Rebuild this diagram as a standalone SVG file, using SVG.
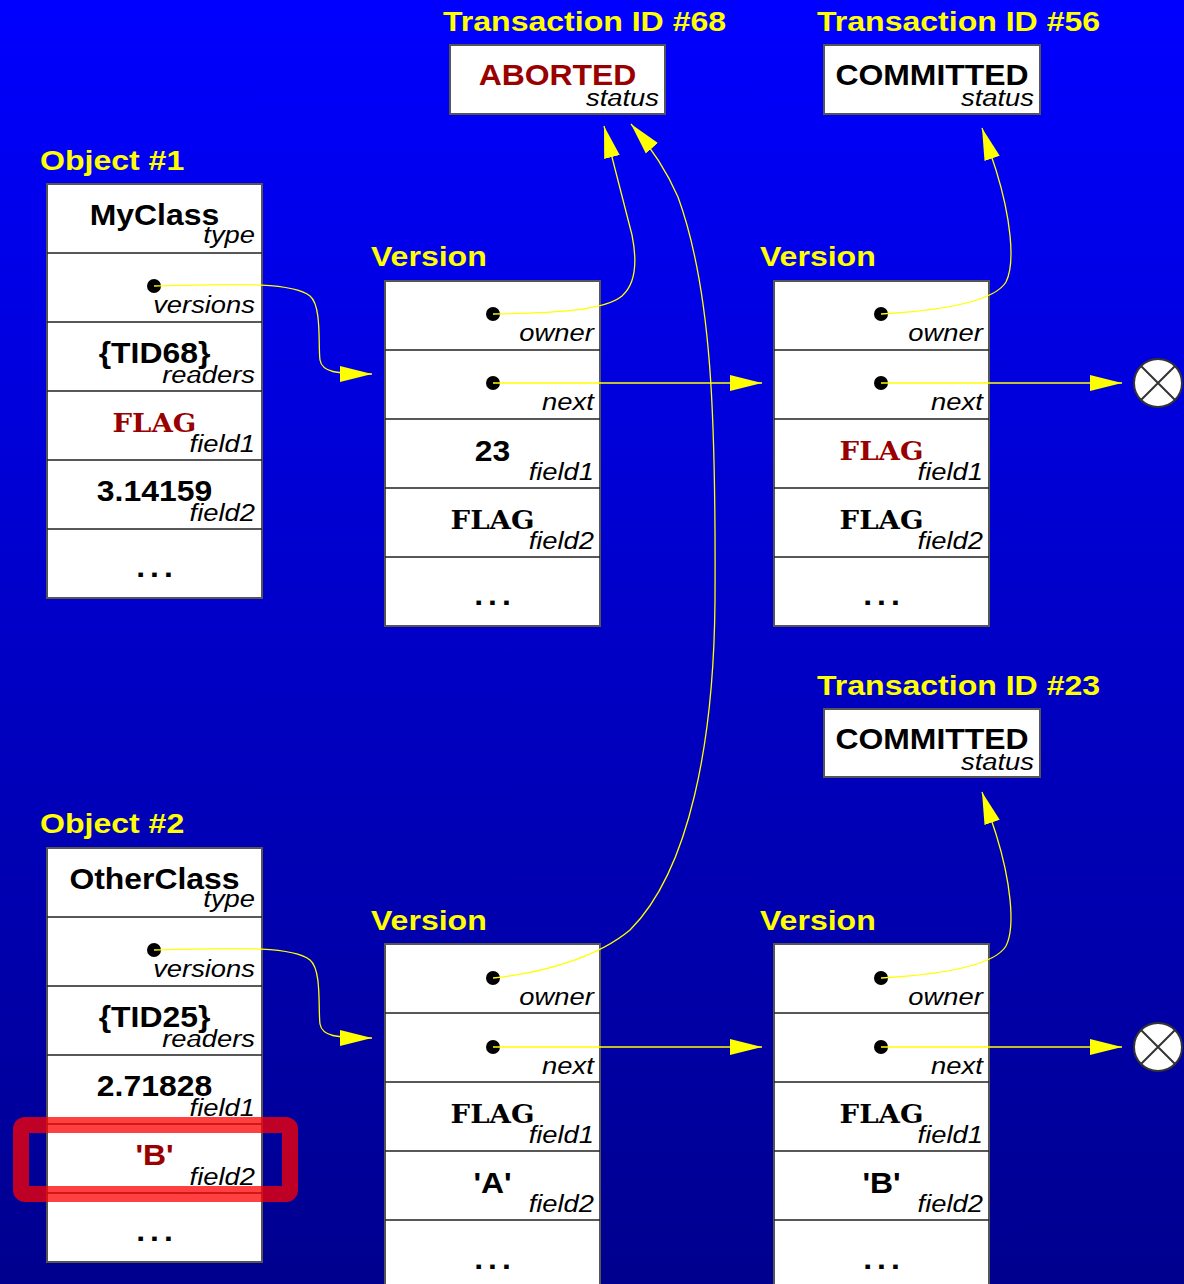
<svg xmlns="http://www.w3.org/2000/svg" width="1184" height="1284" viewBox="0 0 1184 1284">
  <defs>
    <linearGradient id="bg" x1="0" y1="0" x2="0" y2="1">
      <stop offset="0" stop-color="#0000ff"/>
      <stop offset="1" stop-color="#00008e"/>
    </linearGradient>
    <marker id="arrow" markerUnits="userSpaceOnUse" markerWidth="34" markerHeight="18" viewBox="0 0 34 18" refX="32" refY="9" orient="auto">
      <path d="M0,1 L32,9 L0,17 z" fill="#ffff00"/>
    </marker>
    <g id="nullref">
      <circle r="24" fill="#fff" stroke="#333" stroke-width="2"/>
      <path d="M-17,-17 L17,17 M17,-17 L-17,17" stroke="#333" stroke-width="2"/>
    </g>
  </defs>
  <style>
    .box { fill: #fff; stroke: #555; stroke-width: 2; }
    .row { stroke: #222; stroke-width: 1.5; }
    .dot { fill: #000; }
    .ttl { font-family: "Liberation Sans", Arial, sans-serif; font-weight: bold; font-size: 28px; fill: #ffff00;
           transform-box: fill-box; transform-origin: 0 0; transform: scaleX(1.145); }
    .val { font-family: "Liberation Sans", Arial, sans-serif; font-weight: bold; font-size: 29px; fill: #000; text-anchor: middle;
           transform-box: fill-box; transform-origin: 50% 0; transform: scaleX(1.1); }
    .mono { font-family: "DejaVu Serif", serif; font-weight: bold; font-size: 26px; fill: #000; text-anchor: middle;
            transform-box: fill-box; transform-origin: 50% 0; transform: scaleX(1.06); }
    .red { fill: #990000; }
    .lbl { font-family: "Liberation Sans", Arial, sans-serif; font-style: italic; font-size: 24px; fill: #000; text-anchor: end;
           transform-box: fill-box; transform-origin: 100% 0; transform: scaleX(1.14); }
    .more { letter-spacing: 4.5px; }
    .link { fill: none; stroke: #ffff00; stroke-width: 1.3; marker-end: url(#arrow); }
    .mark { fill: none; stroke: rgba(255,0,0,0.75); stroke-width: 16; }
  </style>

  <rect x="0" y="0" width="1184" height="1284" fill="url(#bg)"/>

  <!-- Transactions -->
  <g id="tx68">
    <text class="ttl" x="443" y="31">Transaction ID #68</text>
    <rect class="box" x="450" y="45" width="215" height="69"/>
    <text class="val red" x="557.5" y="85">ABORTED</text>
    <text class="lbl" x="659" y="106">status</text>
  </g>
  <g id="tx56">
    <text class="ttl" x="817" y="31">Transaction ID #56</text>
    <rect class="box" x="824" y="45" width="216" height="69"/>
    <text class="val" x="932" y="85">COMMITTED</text>
    <text class="lbl" x="1034" y="106">status</text>
  </g>
  <g id="tx23">
    <text class="ttl" x="817" y="695">Transaction ID #23</text>
    <rect class="box" x="824" y="709" width="216" height="68"/>
    <text class="val" x="932" y="749">COMMITTED</text>
    <text class="lbl" x="1034" y="770">status</text>
  </g>

  <!-- Object #1 -->
  <g id="object1">
    <text class="ttl" x="40" y="170">Object #1</text>
    <rect class="box" x="47" y="184" width="215" height="414"/>
    <path class="row" d="M47,253 H262 M47,322 H262 M47,391 H262 M47,460 H262 M47,529 H262"/>
    <text class="val" x="154.5" y="225">MyClass</text>
    <text class="lbl" x="255" y="243">type</text>
    <circle class="dot" cx="154" cy="286" r="7"/>
    <text class="lbl" x="255" y="313">versions</text>
    <text class="val" x="154.5" y="363">{TID68}</text>
    <text class="lbl" x="255" y="383">readers</text>
    <text class="mono red" x="154.5" y="432">FLAG</text>
    <text class="lbl" x="255" y="452">field1</text>
    <text class="val" x="154.5" y="501">3.14159</text>
    <text class="lbl" x="255" y="521">field2</text>
    <text class="val more" x="157" y="577">...</text>
  </g>

  <!-- Object #2 -->
  <g id="object2">
    <text class="ttl" x="40" y="833">Object #2</text>
    <rect class="box" x="47" y="848" width="215" height="414"/>
    <path class="row" d="M47,917 H262 M47,986 H262 M47,1055 H262 M47,1124 H262 M47,1193 H262"/>
    <text class="val" x="154.5" y="889">OtherClass</text>
    <text class="lbl" x="255" y="907">type</text>
    <circle class="dot" cx="154" cy="950" r="7"/>
    <text class="lbl" x="255" y="977">versions</text>
    <text class="val" x="154.5" y="1027">{TID25}</text>
    <text class="lbl" x="255" y="1047">readers</text>
    <text class="val" x="154.5" y="1096">2.71828</text>
    <text class="lbl" x="255" y="1116">field1</text>
    <text class="val red" x="154.5" y="1165">'B'</text>
    <text class="lbl" x="255" y="1185">field2</text>
    <text class="val more" x="157" y="1241">...</text>
  </g>

  <!-- Versions of object #1 -->
  <g id="version1a">
    <text class="ttl" x="371" y="266">Version</text>
    <rect class="box" x="385" y="281" width="215" height="345"/>
    <path class="row" d="M385,350 H600 M385,419 H600 M385,488 H600 M385,557 H600"/>
    <circle class="dot" cx="493" cy="314" r="7"/>
    <text class="lbl" x="594" y="341">owner</text>
    <circle class="dot" cx="493" cy="383" r="7"/>
    <text class="lbl" x="594" y="410">next</text>
    <text class="val" x="492.5" y="461">23</text>
    <text class="lbl" x="594" y="480">field1</text>
    <text class="mono" x="492.5" y="529">FLAG</text>
    <text class="lbl" x="594" y="549">field2</text>
    <text class="val more" x="495" y="605">...</text>
  </g>
  <g id="version1b">
    <text class="ttl" x="760" y="266">Version</text>
    <rect class="box" x="774" y="281" width="215" height="345"/>
    <path class="row" d="M774,350 H989 M774,419 H989 M774,488 H989 M774,557 H989"/>
    <circle class="dot" cx="881" cy="314" r="7"/>
    <text class="lbl" x="983" y="341">owner</text>
    <circle class="dot" cx="881" cy="383" r="7"/>
    <text class="lbl" x="983" y="410">next</text>
    <text class="mono red" x="881.5" y="460">FLAG</text>
    <text class="lbl" x="983" y="480">field1</text>
    <text class="mono" x="881.5" y="529">FLAG</text>
    <text class="lbl" x="983" y="549">field2</text>
    <text class="val more" x="884" y="605">...</text>
  </g>

  <!-- Versions of object #2 -->
  <g id="version2a">
    <text class="ttl" x="371" y="930">Version</text>
    <rect class="box" x="385" y="944" width="215" height="345"/>
    <path class="row" d="M385,1013 H600 M385,1082 H600 M385,1151 H600 M385,1220 H600"/>
    <circle class="dot" cx="493" cy="978" r="7"/>
    <text class="lbl" x="594" y="1005">owner</text>
    <circle class="dot" cx="493" cy="1047" r="7"/>
    <text class="lbl" x="594" y="1074">next</text>
    <text class="mono" x="492.5" y="1123">FLAG</text>
    <text class="lbl" x="594" y="1143">field1</text>
    <text class="val" x="492.5" y="1193">'A'</text>
    <text class="lbl" x="594" y="1212">field2</text>
    <text class="val more" x="495" y="1269">...</text>
  </g>
  <g id="version2b">
    <text class="ttl" x="760" y="930">Version</text>
    <rect class="box" x="774" y="944" width="215" height="345"/>
    <path class="row" d="M774,1013 H989 M774,1082 H989 M774,1151 H989 M774,1220 H989"/>
    <circle class="dot" cx="881" cy="978" r="7"/>
    <text class="lbl" x="983" y="1005">owner</text>
    <circle class="dot" cx="881" cy="1047" r="7"/>
    <text class="lbl" x="983" y="1074">next</text>
    <text class="mono" x="881.5" y="1123">FLAG</text>
    <text class="lbl" x="983" y="1143">field1</text>
    <text class="val" x="881.5" y="1193">'B'</text>
    <text class="lbl" x="983" y="1212">field2</text>
    <text class="val more" x="884" y="1269">...</text>
  </g>

  <!-- Null references -->
  <g id="null1"><use href="#nullref" x="1158" y="383"/></g>
  <g id="null2"><use href="#nullref" x="1158" y="1047"/></g>

  <!-- Pointers -->
  <g id="connectors">
    <path class="link" d="M154,286 C240,284 292,282 310,296 C322,306 318,345 320,360 C322,372 335,374 372,374"/>
    <path class="link" d="M493,314 C560,313 605,310 622,296 C638,282 636,255 632,235 L604,126"/>
    <path class="link" d="M493,383 H762"/>
    <path class="link" d="M881,314 C950,310 995,300 1006,282 C1016,262 1010,215 996,170 L982,128"/>
    <path class="link" d="M881,383 H1122"/>
    <path class="link" d="M154,950 C240,948 292,946 310,960 C322,970 318,1009 320,1024 C322,1036 335,1038 372,1038"/>
    <path class="link" d="M493,978 C550,972 600,955 630,930 C690,870 714,740 715,600 C716,420 712,290 678,197 Q662,160 631,124"/>
    <path class="link" d="M493,1047 H762"/>
    <path class="link" d="M881,978 C950,974 995,964 1006,946 C1016,926 1010,879 996,834 L982,792"/>
    <path class="link" d="M881,1047 H1122"/>
  </g>

  <!-- Highlighted field -->
  <g id="highlight">
    <rect class="mark" x="21" y="1125" width="269" height="69" rx="4"/>
  </g>
</svg>
